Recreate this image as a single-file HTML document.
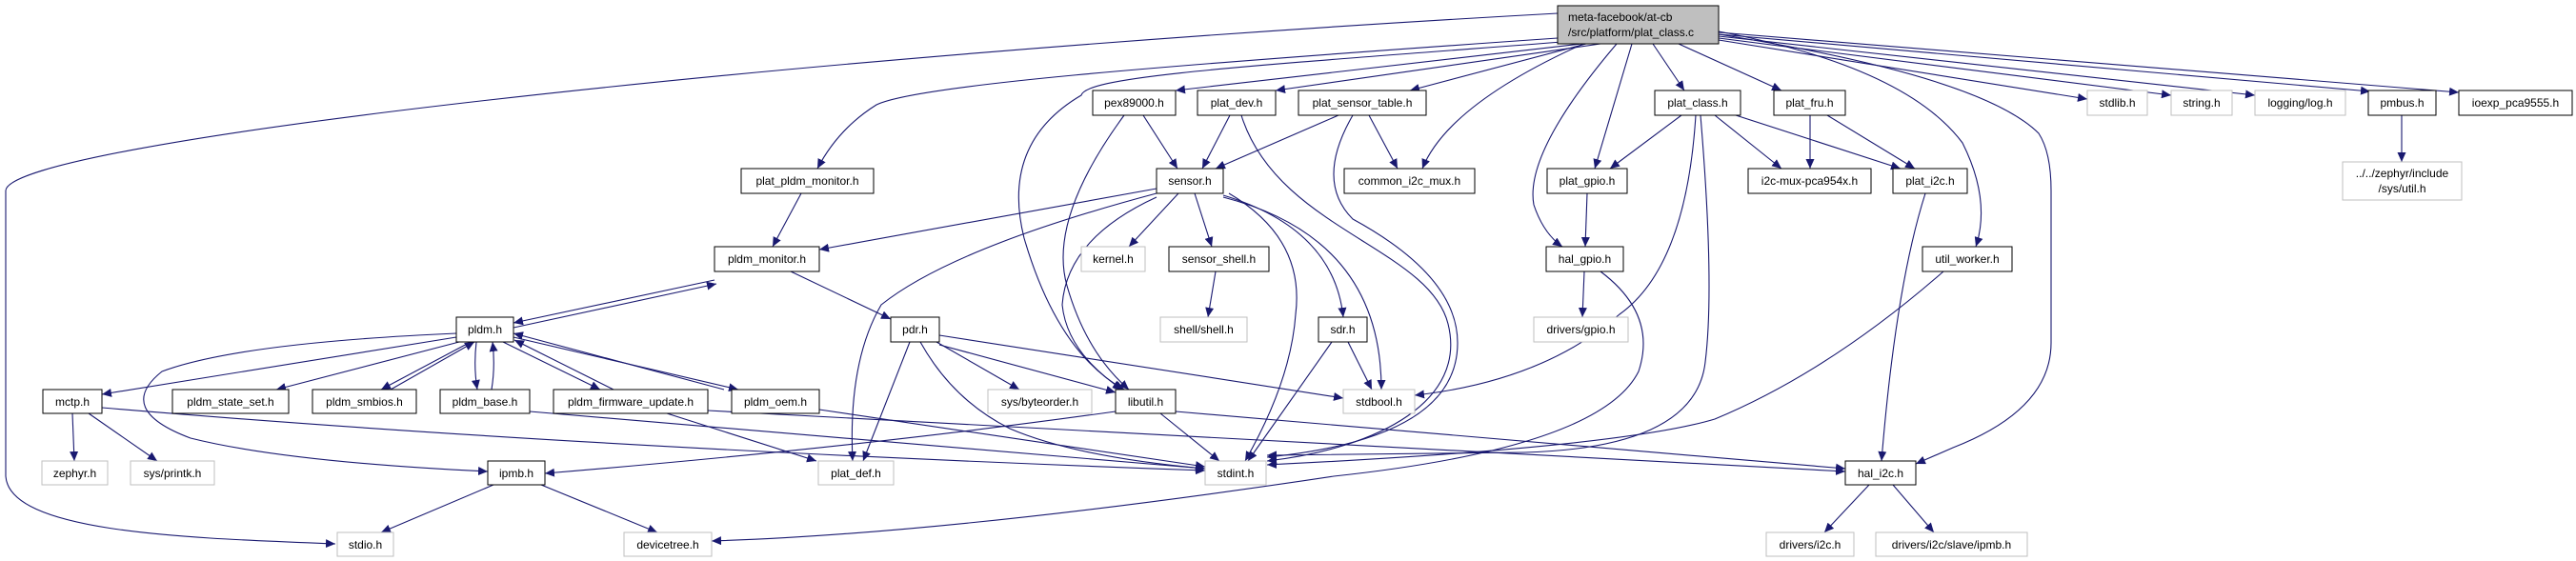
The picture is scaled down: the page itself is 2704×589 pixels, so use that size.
<!DOCTYPE html>
<html><head><meta charset="utf-8"><style>
html,body{margin:0;padding:0;background:#fff;}
svg{display:block;}
text{font-family:"Liberation Sans",sans-serif;font-size:12px;fill:#000;}
.e{fill:none;stroke:#191970;stroke-width:1.1;marker-end:url(#a);}
.n{fill:#fff;stroke:#000;stroke-width:1;}
.g{fill:#fff;stroke:#bfbfbf;stroke-width:1;}
</style></head><body>
<svg width="2704" height="589" viewBox="0 0 2704 589" xmlns="http://www.w3.org/2000/svg">
<defs><marker id="a" markerUnits="userSpaceOnUse" markerWidth="11" markerHeight="9" refX="10" refY="4.5" orient="auto"><path d="M0,0 L10,4.5 L0,9 z" fill="#191970"/></marker></defs>
<g>
<path class="e" d="M1635,14 C800,60 10,150 6,200 L6,500 C10,560 200,565 352,571"/>
<path class="e" d="M1635,40 C1200,70 960,90 920,110 Q880,135 858,177"/>
<path class="e" d="M1640,44 C1300,70 1140,80 1135,100 Q1050,150 1075,250 Q1110,370 1180,409"/>
<path class="e" d="M1660,46 L1234,95"/>
<path class="e" d="M1680,46 L1339,95"/>
<path class="e" d="M1665,46 L1480,95"/>
<path class="e" d="M1662,46 Q1520,110 1493,177"/>
<path class="e" d="M1697,46 Q1600,160 1610,215 Q1620,245 1640,259"/>
<path class="e" d="M1713,46 L1674,177"/>
<path class="e" d="M1735,46 L1768,95"/>
<path class="e" d="M1762,46 L1870,95"/>
<path class="e" d="M1804,33 Q2000,70 2060,150 Q2090,210 2074,259"/>
<path class="e" d="M1804,36 Q2080,80 2140,140 Q2153,160 2153,200 L2153,360 Q2153,430 2050,470 L2011,487"/>
<path class="e" d="M1804,42 L2191,104"/>
<path class="e" d="M1804,40 L2279,100"/>
<path class="e" d="M1804,38 L2367,100"/>
<path class="e" d="M1804,36 L2488,96"/>
<path class="e" d="M1804,34 L2581,97"/>
<path class="e" d="M1200,121 L1236,177"/>
<path class="e" d="M1180,121 Q1100,230 1120,300 Q1140,370 1185,409"/>
<path class="e" d="M1291,121 L1262,177"/>
<path class="e" d="M1303,121 C1340,240 1500,260 1520,340 C1540,420 1450,470 1330,484"/>
<path class="e" d="M1405,121 L1276,177"/>
<path class="e" d="M1437,121 L1467,177"/>
<path class="e" d="M1420,121 Q1380,190 1420,230 Q1530,290 1530,360 Q1530,460 1330,480"/>
<path class="e" d="M841,203 L811,259"/>
<path class="e" d="M1214,198 L860,262"/>
<path class="e" d="M1214,203 Q1000,260 925,320 Q890,380 895,484"/>
<path class="e" d="M1237,203 L1185,259"/>
<path class="e" d="M1254,203 L1272,259"/>
<path class="e" d="M1214,207 Q1120,250 1115,320 Q1120,370 1178,409"/>
<path class="e" d="M1290,203 Q1370,250 1360,330 Q1355,400 1307,484"/>
<path class="e" d="M1284,205 Q1400,240 1410,333"/>
<path class="e" d="M1284,207 Q1450,250 1450,409"/>
<path class="e" d="M1276,285 L1268,333"/>
<path class="e" d="M750,294 L539,339"/>
<path class="e" d="M539,344 L752,298"/>
<path class="e" d="M830,285 L935,335"/>
<path class="e" d="M479,354 L107,414"/>
<path class="e" d="M482,359 L290,409"/>
<path class="e" d="M494,359 L400,409"/>
<path class="e" d="M410,409 L498,359"/>
<path class="e" d="M500,359 Q497,385 501,409"/>
<path class="e" d="M516,409 Q520,385 517,359"/>
<path class="e" d="M528,359 L630,409"/>
<path class="e" d="M644,409 L540,357"/>
<path class="e" d="M539,354 L775,409"/>
<path class="e" d="M760,409 L539,350"/>
<path class="e" d="M479,350 Q250,360 170,390 Q120,430 200,460 Q300,485 512,495"/>
<path class="e" d="M76,434 L78,484"/>
<path class="e" d="M93,434 L165,484"/>
<path class="e" d="M107,428 Q600,470 1265,494"/>
<path class="e" d="M556,432 L1265,492"/>
<path class="e" d="M743,431 L1937,495"/>
<path class="e" d="M700,434 L857,484"/>
<path class="e" d="M860,430 L1265,490"/>
<path class="e" d="M955,359 L906,484"/>
<path class="e" d="M966,359 Q1000,420 1060,450 Q1130,480 1265,492"/>
<path class="e" d="M983,359 L1070,409"/>
<path class="e" d="M986,362 L1171,412"/>
<path class="e" d="M986,352 L1410,418"/>
<path class="e" d="M1171,432 Q900,470 572,497"/>
<path class="e" d="M1218,434 L1280,484"/>
<path class="e" d="M1234,432 L1937,492"/>
<path class="e" d="M1415,359 L1440,409"/>
<path class="e" d="M1398,359 L1310,484"/>
<path class="e" d="M1765,121 L1690,177"/>
<path class="e" d="M1800,121 L1870,177"/>
<path class="e" d="M1822,121 L1995,177"/>
<path class="e" d="M1780,121 Q1770,280 1700,330 Q1620,400 1485,415"/>
<path class="e" d="M1785,121 Q1800,300 1790,380 Q1780,470 1600,475 L1330,478"/>
<path class="e" d="M1900,121 L1900,177"/>
<path class="e" d="M1918,121 L2010,177"/>
<path class="e" d="M1666,203 L1664,259"/>
<path class="e" d="M1663,285 L1661,333"/>
<path class="e" d="M1680,285 Q1740,330 1720,390 Q1680,470 1400,500 Q1000,560 747,568"/>
<path class="e" d="M2021,203 Q1990,300 1975,484"/>
<path class="e" d="M2040,285 Q1920,390 1800,440 Q1700,470 1330,488"/>
<path class="e" d="M1962,509 L1915,559"/>
<path class="e" d="M1987,509 L2030,559"/>
<path class="e" d="M518,509 L400,559"/>
<path class="e" d="M568,509 L690,559"/>
<path class="e" d="M2521,121 L2521,170"/>
</g>
<g>
<rect x="1635" y="6" width="169" height="40" fill="#bfbfbf" stroke="#000"/>
<text x="1646" y="22">meta-facebook/at-cb</text>
<text x="1646" y="38">/src/platform/plat_class.c</text>

<rect class="n" x="1147" y="95" width="87" height="26"/><text x="1190.5" y="112" text-anchor="middle">pex89000.h</text>
<rect class="n" x="1257" y="95" width="82" height="26"/><text x="1298" y="112" text-anchor="middle">plat_dev.h</text>
<rect class="n" x="1363" y="95" width="134" height="26"/><text x="1430" y="112" text-anchor="middle">plat_sensor_table.h</text>
<rect class="n" x="1737" y="95" width="90" height="26"/><text x="1782" y="112" text-anchor="middle">plat_class.h</text>
<rect class="n" x="1862" y="95" width="75" height="26"/><text x="1899.5" y="112" text-anchor="middle">plat_fru.h</text>
<rect class="g" x="2191" y="95" width="63" height="26"/><text x="2222.5" y="112" text-anchor="middle">stdlib.h</text>
<rect class="g" x="2279" y="95" width="64" height="26"/><text x="2311" y="112" text-anchor="middle">string.h</text>
<rect class="g" x="2367" y="95" width="95" height="26"/><text x="2414.5" y="112" text-anchor="middle">logging/log.h</text>
<rect class="n" x="2486" y="95" width="71" height="26"/><text x="2521.5" y="112" text-anchor="middle">pmbus.h</text>
<rect class="n" x="2581" y="95" width="119" height="26"/><text x="2640.5" y="112" text-anchor="middle">ioexp_pca9555.h</text>

<rect class="n" x="778" y="177" width="139" height="26"/><text x="847.5" y="194" text-anchor="middle">plat_pldm_monitor.h</text>
<rect class="n" x="1214" y="177" width="70" height="26"/><text x="1249" y="194" text-anchor="middle">sensor.h</text>
<rect class="n" x="1411" y="177" width="137" height="26"/><text x="1479.5" y="194" text-anchor="middle">common_i2c_mux.h</text>
<rect class="n" x="1624" y="177" width="84" height="26"/><text x="1666" y="194" text-anchor="middle">plat_gpio.h</text>
<rect class="n" x="1835" y="177" width="129" height="26"/><text x="1899.5" y="194" text-anchor="middle">i2c-mux-pca954x.h</text>
<rect class="n" x="1987" y="177" width="78" height="26"/><text x="2026" y="194" text-anchor="middle">plat_i2c.h</text>
<rect class="g" x="2459" y="170" width="125" height="40"/><text x="2521.5" y="186" text-anchor="middle">../../zephyr/include</text><text x="2521.5" y="202" text-anchor="middle">/sys/util.h</text>

<rect class="n" x="750" y="259" width="110" height="26"/><text x="805" y="276" text-anchor="middle">pldm_monitor.h</text>
<rect class="g" x="1135" y="259" width="67" height="26"/><text x="1168.5" y="276" text-anchor="middle">kernel.h</text>
<rect class="n" x="1227" y="259" width="105" height="26"/><text x="1279.5" y="276" text-anchor="middle">sensor_shell.h</text>
<rect class="n" x="1623" y="259" width="81" height="26"/><text x="1663.5" y="276" text-anchor="middle">hal_gpio.h</text>
<rect class="n" x="2018" y="259" width="94" height="26"/><text x="2065" y="276" text-anchor="middle">util_worker.h</text>

<rect class="n" x="479" y="333" width="60" height="26"/><text x="509" y="350" text-anchor="middle">pldm.h</text>
<rect class="n" x="935" y="333" width="51" height="26"/><text x="960.5" y="350" text-anchor="middle">pdr.h</text>
<rect class="g" x="1218" y="333" width="91" height="26"/><text x="1263.5" y="350" text-anchor="middle">shell/shell.h</text>
<rect class="n" x="1384" y="333" width="51" height="26"/><text x="1409.5" y="350" text-anchor="middle">sdr.h</text>
<rect class="g" x="1610" y="333" width="99" height="26"/><text x="1659.5" y="350" text-anchor="middle">drivers/gpio.h</text>

<rect class="n" x="45" y="409" width="62" height="25"/><text x="76" y="426" text-anchor="middle">mctp.h</text>
<rect class="n" x="181" y="409" width="122" height="25"/><text x="242" y="426" text-anchor="middle">pldm_state_set.h</text>
<rect class="n" x="328" y="409" width="109" height="25"/><text x="382.5" y="426" text-anchor="middle">pldm_smbios.h</text>
<rect class="n" x="462" y="409" width="94" height="25"/><text x="509" y="426" text-anchor="middle">pldm_base.h</text>
<rect class="n" x="581" y="409" width="162" height="25"/><text x="662" y="426" text-anchor="middle">pldm_firmware_update.h</text>
<rect class="n" x="768" y="409" width="92" height="25"/><text x="814" y="426" text-anchor="middle">pldm_oem.h</text>
<rect class="g" x="1037" y="409" width="109" height="25"/><text x="1091.5" y="426" text-anchor="middle">sys/byteorder.h</text>
<rect class="n" x="1171" y="409" width="63" height="25"/><text x="1202.5" y="426" text-anchor="middle">libutil.h</text>
<rect class="g" x="1410" y="409" width="75" height="25"/><text x="1447.5" y="426" text-anchor="middle">stdbool.h</text>

<rect class="g" x="44" y="484" width="69" height="25"/><text x="78.5" y="501" text-anchor="middle">zephyr.h</text>
<rect class="g" x="137" y="484" width="88" height="25"/><text x="181" y="501" text-anchor="middle">sys/printk.h</text>
<rect class="n" x="512" y="484" width="60" height="25"/><text x="542" y="501" text-anchor="middle">ipmb.h</text>
<rect class="g" x="859" y="484" width="79" height="25"/><text x="898.5" y="501" text-anchor="middle">plat_def.h</text>
<rect class="g" x="1265" y="484" width="64" height="25"/><text x="1297" y="501" text-anchor="middle">stdint.h</text>
<rect class="n" x="1937" y="484" width="74" height="25"/><text x="1974" y="501" text-anchor="middle">hal_i2c.h</text>

<rect class="g" x="354" y="559" width="59" height="25"/><text x="383.5" y="576" text-anchor="middle">stdio.h</text>
<rect class="g" x="655" y="559" width="92" height="25"/><text x="701" y="576" text-anchor="middle">devicetree.h</text>
<rect class="g" x="1854" y="559" width="92" height="25"/><text x="1900" y="576" text-anchor="middle">drivers/i2c.h</text>
<rect class="g" x="1969" y="559" width="159" height="25"/><text x="2048.5" y="576" text-anchor="middle">drivers/i2c/slave/ipmb.h</text>
</g>
</svg>
</body></html>
